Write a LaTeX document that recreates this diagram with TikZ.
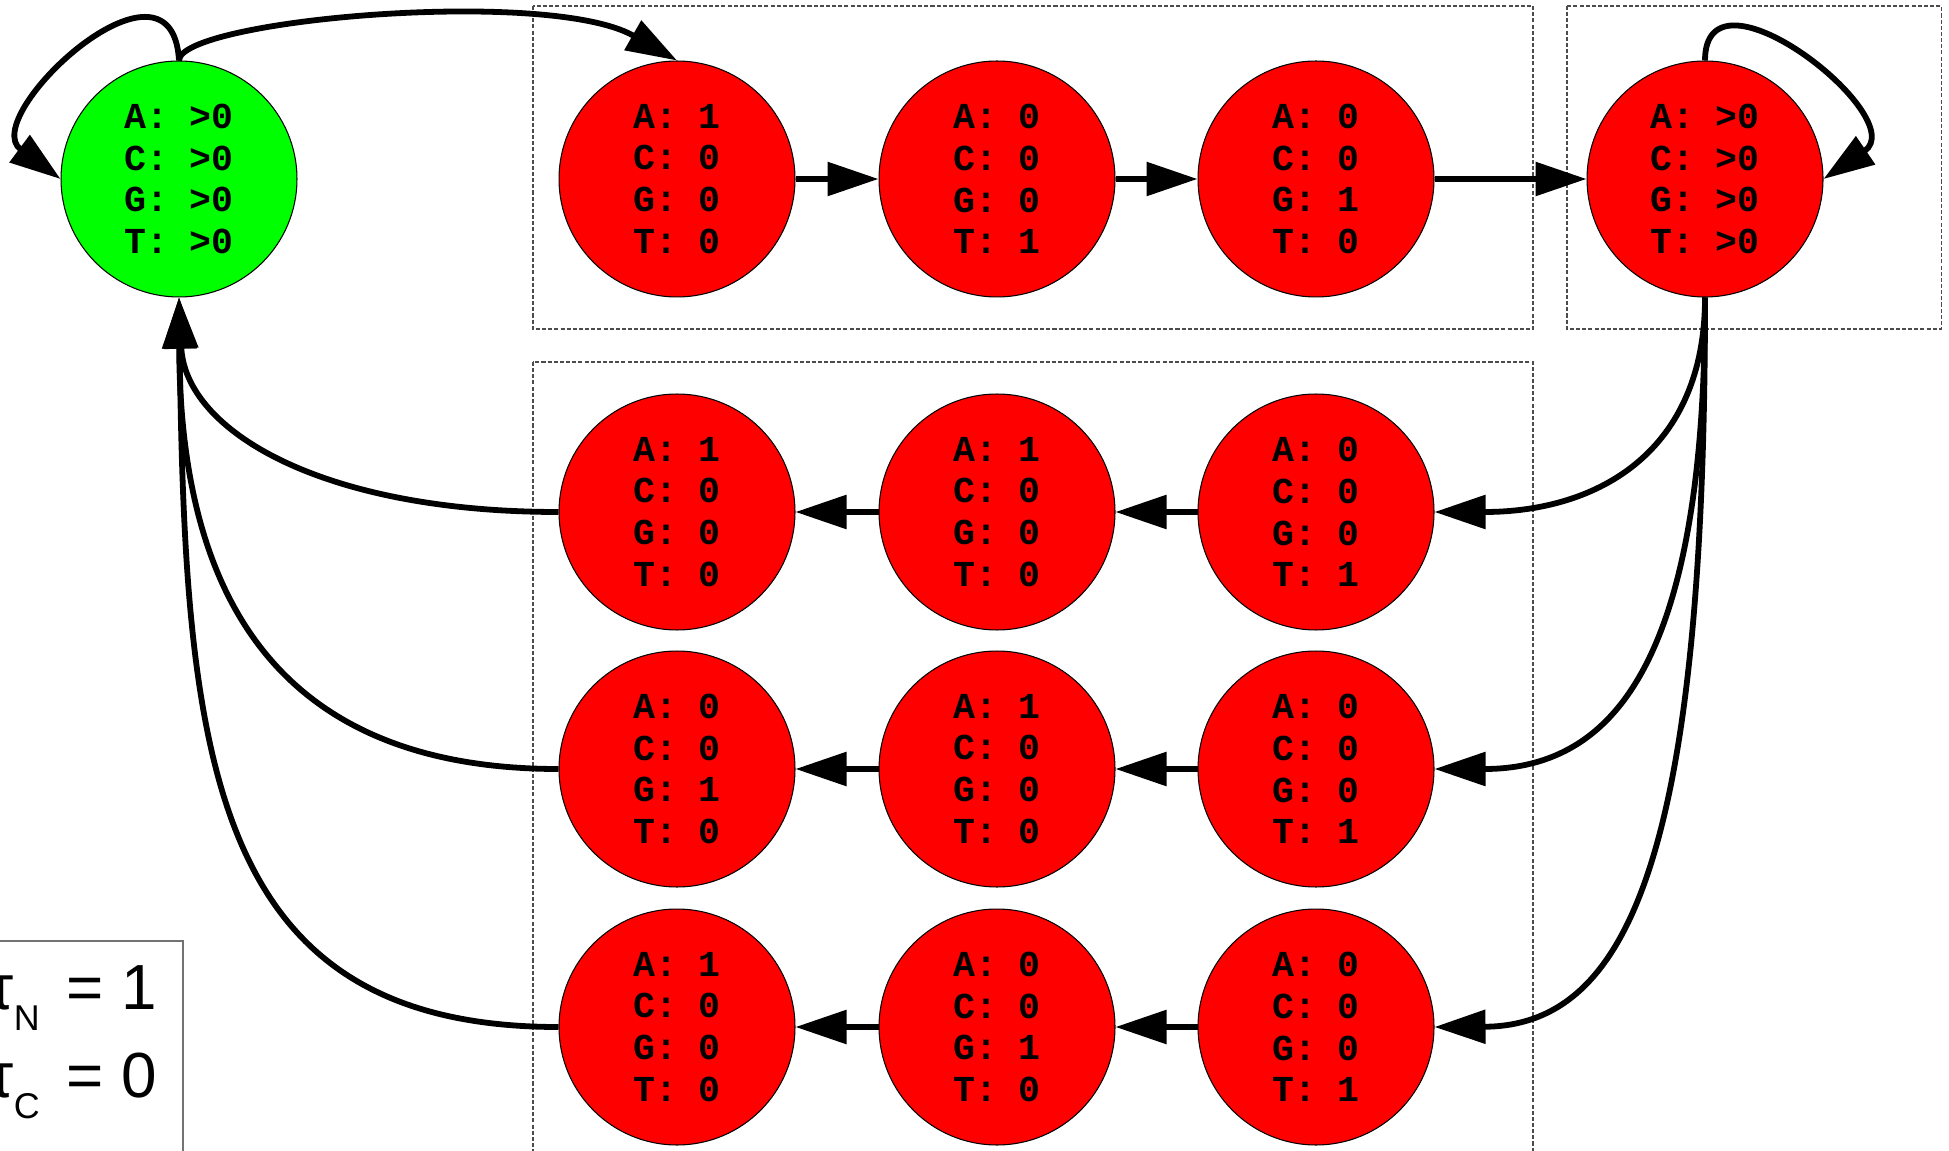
\documentclass[tikz,border=0pt]{standalone}
\usepackage{fontspec}
\setmainfont{Liberation Sans}
\setmonofont{Liberation Mono}
\usetikzlibrary{arrows.meta}

\begin{document}
\begin{tikzpicture}[x=0.02cm,y=-0.02cm,
        state/.style={draw,circle,line width=0.6pt,minimum size=4.72cm,inner sep=0pt,fill=red,align=center,
            font=\ttfamily\bfseries\fontsize{20.8pt}{23.8pt}\selectfont},
        link/.style={line width=3.3pt,-{Triangle[length=1.02cm,width=0.66cm]}},
        groupbox/.style={draw=black!70,line width=0.6pt,dash pattern=on 2.3pt off 1.2pt},
        legend/.style={anchor=base east,inner sep=0pt,font=\fontsize{36.3pt}{40pt}\selectfont}]
    \useasboundingbox (0,0) rectangle (1949,1151);

    \draw[groupbox] (533,6) rectangle (1533,329);
    \draw[groupbox] (1567,6) rectangle (1941,329);
    \draw[groupbox] (533,362) rectangle (1533,1170);
    \draw[black!55,line width=0.6pt] (-10,941) rectangle (183,1170);

    \node[state,fill=green] (S) at (179,179) {A: >0\\C: >0\\G: >0\\T: >0};
    \node[state] (A1) at (677,179) {A: 1\\C: 0\\G: 0\\T: 0};
    \node[state] (A2) at (997,179) {A: 0\\C: 0\\G: 0\\T: 1};
    \node[state] (A3) at (1316,179) {A: 0\\C: 0\\G: 1\\T: 0};
    \node[state] (E) at (1705,179) {A: >0\\C: >0\\G: >0\\T: >0};

    \node[state] (B1) at (677,512) {A: 1\\C: 0\\G: 0\\T: 0};
    \node[state] (B2) at (997,512) {A: 1\\C: 0\\G: 0\\T: 0};
    \node[state] (B3) at (1316,512) {A: 0\\C: 0\\G: 0\\T: 1};

    \node[state] (C1) at (677,769) {A: 0\\C: 0\\G: 1\\T: 0};
    \node[state] (C2) at (997,769) {A: 1\\C: 0\\G: 0\\T: 0};
    \node[state] (C3) at (1316,769) {A: 0\\C: 0\\G: 0\\T: 1};

    \node[state] (D1) at (677,1027) {A: 1\\C: 0\\G: 0\\T: 0};
    \node[state] (D2) at (997,1027) {A: 0\\C: 0\\G: 1\\T: 0};
    \node[state] (D3) at (1316,1027) {A: 0\\C: 0\\G: 0\\T: 1};

    \node[legend] (tN) at (157,1009) {τ\raisebox{-12.5pt}{\fontsize{20.4pt}{24pt}\selectfont N}\hspace{15pt}= 1};
    \node[legend] (tC) at (157,1097) {τ\raisebox{-12.5pt}{\fontsize{20.4pt}{24pt}\selectfont C}\hspace{15pt}= 0};

    \draw[link] (S.north) .. controls (172,-65) and (-23,117) .. (S.west);
    \draw[link] (S.north) .. controls (180,20) and (548,-13) .. (A1.north);
    \draw[link] (A1) -- (A2);
    \draw[link] (A2) -- (A3);
    \draw[link] (A3) -- (E);
    \draw[link] (E.north) .. controls (1705,-45) and (1913,118) .. (E.east);

    \draw[link] (E.south) .. controls (1705,450) and (1600,512) .. (B3.east);
    \draw[link] (E.south) .. controls (1705,650) and (1620,769) .. (C3.east);
    \draw[link] (E.south) .. controls (1705,850) and (1630,1026) .. (D3.east);

    \draw[link] (B3) -- (B2);
    \draw[link] (B2) -- (B1);
    \draw[link] (C3) -- (C2);
    \draw[link] (C2) -- (C1);
    \draw[link] (D3) -- (D2);
    \draw[link] (D2) -- (D1);

    \draw[link] (B1.west) .. controls (320,512) and (185,430) .. (S.south);
    \draw[link] (C1.west) .. controls (250,769) and (180,560) .. (S.south);
    \draw[link] (D1.west) .. controls (210,1027) and (185,760) .. (S.south);
\end{tikzpicture}
\end{document}
